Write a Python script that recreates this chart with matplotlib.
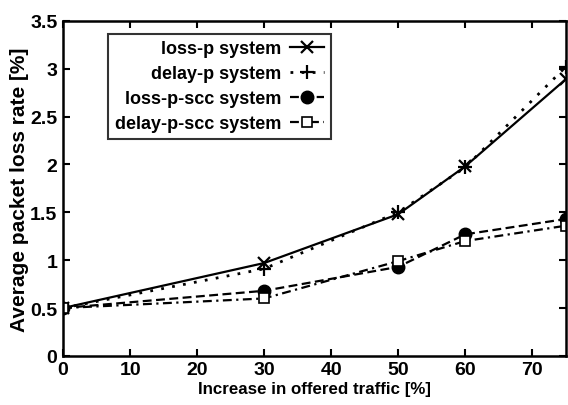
import matplotlib
matplotlib.use('Agg')
import matplotlib.pyplot as plt

# offered traffic increase [%]
traffic = [0, 30, 50, 60, 75]

# average packet loss rate [%]
loss_p = [0.5, 0.97, 1.48, 1.98, 2.89]
delay_p = [0.5, 0.91, 1.50, 1.97, 3.02]
loss_p_scc = [0.5, 0.68, 0.93, 1.27, 1.43]
delay_p_scc = [0.5, 0.60, 0.99, 1.20, 1.36]

labels = ['loss-p system', 'delay-p system', 'loss-p-scc system', 'delay-p-scc system']

plt.rcParams['font.family'] = ['Liberation Sans', 'DejaVu Sans']
plt.rcParams['font.weight'] = 'bold'
plt.rcParams['axes.labelweight'] = 'bold'

fig = plt.figure(figsize=(5.68, 4.06), dpi=100)
ax = fig.add_axes([0.111, 0.121, 0.885, 0.825])

ax.plot(traffic, loss_p, color='black', lw=1.6, ls='-', marker='x', ms=9, mew=1.6, label=labels[0])
ax.plot(traffic, delay_p, color='black', lw=2, ls=(0, (1, 3)), marker='+', ms=10, mew=1.6, label=labels[1])
ax.plot(traffic, loss_p_scc, color='black', lw=1.6, ls=(0, (4, 2)), marker='o', ms=9, label=labels[2])
ax.plot(traffic, delay_p_scc, color='black', lw=1.6, ls=(0, (4, 2, 1, 2)), marker='s', ms=7,
        mfc='white', mew=1.2, label=labels[3])

ax.set_xlim(0, 75)
ax.set_ylim(0, 3.5)
ax.set_xticks([0, 10, 20, 30, 40, 50, 60, 70])
ax.set_yticks([0, 0.5, 1, 1.5, 2, 2.5, 3, 3.5])
ax.set_yticklabels(['0', '0.5', '1', '1.5', '2', '2.5', '3', '3.5'])
ax.tick_params(direction='in', top=True, right=True, length=5, width=1.5, labelsize=14, pad=4)
for s in ax.spines.values():
    s.set_linewidth(1.8)

ax.set_xlabel('Increase in offered traffic [%]', fontsize=12.2, labelpad=2)
ax.set_ylabel('Average packet loss rate [%]', fontsize=15, labelpad=1)

leg = ax.legend(loc='upper left', bbox_to_anchor=(0.09, 0.962), markerfirst=False, fontsize=13,
                frameon=True, fancybox=False, edgecolor='black', handlelength=1.9,
                handletextpad=0.5, labelspacing=0.45, borderpad=0.35, borderaxespad=0)
leg.get_frame().set_linewidth(1.5)

fig.savefig('out.png', dpi=100)
